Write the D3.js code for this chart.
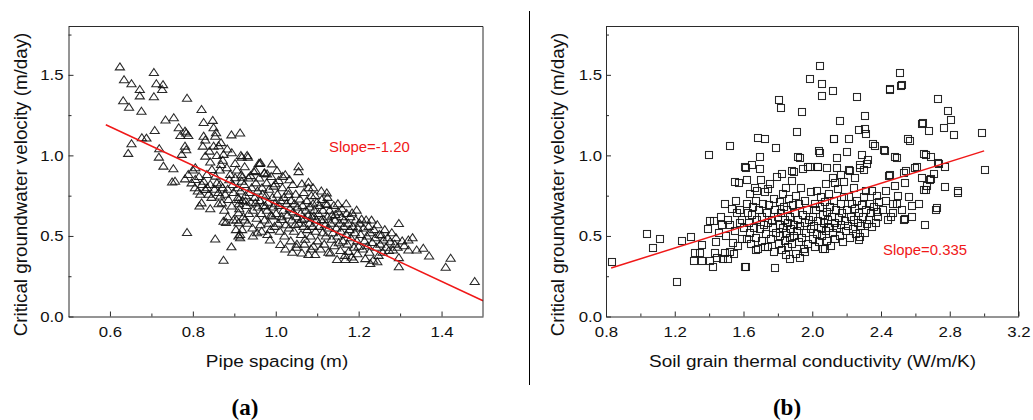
<!DOCTYPE html>
<html><head><meta charset="utf-8">
<script src="https://cdn.jsdelivr.net/npm/d3@7"></script>
<style>body{margin:0;background:#fff;}svg{display:block;}</style>
</head><body><svg id="c" width="1033" height="420"></svg>
<script>
// ---------------- data ----------------
const yDomain = [0, 1.8];
const yTicks = [0, 0.5, 1.0, 1.5];
const yMinor = [0.25, 0.75, 1.25, 1.75];

const xDomainA = [0.5, 1.5];
const xTicksA = [0.6, 0.8, 1.0, 1.2, 1.4];
const xMinorA = [0.7, 0.9, 1.1, 1.3];
const xTitleA = "Pipe spacing (m)";
const panelLabelA = "(a)";
const fitA = [-1.20, 1.898, 0.59, 1.5]; // slope, intercept, x from, x to
const slopeLabelA = "Slope=-1.20";

const xDomainB = [0.8, 3.2];
const xTicksB = [0.8, 1.2, 1.6, 2.0, 2.4, 2.8, 3.2];
const xMinorB = [1.0, 1.4, 1.8, 2.2, 2.6, 3.0];
const xTitleB = "Soil grain thermal conductivity (W/m/K)";
const panelLabelB = "(b)";
const fitB = [0.335, 0.023, 0.83, 3.0];
const slopeLabelB = "Slope=0.335";

const yTitle = "Critical groundwater velocity (m/day)";

// pipe spacing (m) vs critical velocity (m/day)
const pointsA = [
[0.624,1.55],[0.634,1.47],[0.652,1.445],[0.706,1.515],[0.712,1.445],[0.728,1.44],[0.726,1.41],[0.672,1.41],[0.672,1.37],[0.706,1.365],
[0.632,1.34],[0.646,1.30],[0.676,1.275],[0.786,1.355],[0.821,1.285],[0.734,1.22],[0.754,1.234],[0.826,1.205],[0.848,1.218],[0.708,1.155],
[0.677,1.11],[0.688,1.108],[0.652,1.073],[0.644,1.013],[0.718,0.99],[0.719,1.042],[0.729,0.934],[0.753,0.918],[0.757,0.84],[0.750,0.835],
[0.766,1.172],[0.781,1.151],[0.784,1.14],[0.770,1.124],[0.789,1.124],[0.781,1.058],[0.784,1.036],[0.773,1.007],[0.826,1.12],[0.830,1.096],
[0.824,1.058],[0.840,1.027],[0.850,1.172],[0.856,1.141],[0.854,1.12],[0.850,1.058],[0.893,1.128],[0.914,1.140],[0.916,1.0],[0.894,1.017],
[0.874,1.007],[0.830,0.996],[0.806,0.924],[0.789,0.882],[0.781,0.855],[0.797,0.83],[0.806,0.851],[0.822,0.82],[0.834,0.882],[0.846,0.913],
[0.854,0.872],[0.868,0.944],[0.882,0.924],[0.890,0.882],[0.902,0.862],[0.918,0.84],[0.866,0.82],[0.842,0.82],[0.830,0.789],[0.866,0.748],
[0.870,0.706],[0.886,0.727],[0.894,0.686],[0.910,0.644],[0.910,0.582],[0.914,0.489],[0.842,0.669],[0.821,0.706],[0.816,0.686],[0.874,0.592],
[0.880,0.585],[0.786,0.522],[0.854,0.482],[0.893,0.433],[0.874,0.35],
[0.805,0.80],[0.812,0.78],[0.818,0.76],[0.826,0.84],[0.835,0.80],[0.838,0.76],[0.845,0.74],[0.852,0.79],[0.858,0.83],[0.862,0.77],
[0.872,0.80],[0.878,0.76],[0.884,0.79],[0.888,0.85],[0.896,0.82],[0.898,0.77],[0.862,0.70],[0.876,0.66],[0.884,0.62],[0.898,0.60],
[0.904,0.54],[0.865,0.91],[0.872,0.97],[0.858,1.0],[0.883,1.04],[0.842,0.96],[0.815,0.87],[0.800,0.91],[0.862,1.06],[0.868,1.08],
[0.902,0.95],[0.906,0.91],[0.908,0.80],[0.909,0.74],[0.911,0.70],[0.912,0.67],[0.915,0.78],[0.917,0.88],[0.919,0.54],[0.920,0.72],
[0.922,0.62],[0.924,0.82],[0.925,0.93],[0.927,0.75],[0.929,0.69],[0.931,1.00],[0.932,0.58],[0.934,0.86],[0.935,0.64],[0.937,0.77],
[0.939,0.875],[0.940,0.71],[0.942,0.80],[0.944,0.55],[0.945,0.66],[0.947,0.90],[0.949,0.74],[0.951,0.706],[0.952,0.83],[0.954,0.61],
[0.956,0.78],[0.957,0.68],[0.959,0.95],[0.960,0.86],[0.962,0.72],[0.963,0.57],[0.965,0.64],[0.967,0.80],[0.968,0.76],[0.970,0.69],
[0.972,0.89],[0.973,0.60],[0.975,0.686],[0.976,0.75],[0.978,0.83],[0.979,0.66],[0.981,0.71],[0.983,0.58],[0.984,0.79],[0.986,0.475],
[0.987,0.54],[0.988,0.63],[0.989,0.87],[0.991,0.624],[0.991,0.948],[0.992,0.74],[0.994,0.68],[0.995,0.81],[0.997,0.56],[0.998,0.70],
[0.999,0.824],[0.918,0.99],[0.933,0.99],[0.962,0.95],[0.973,0.892],[0.914,0.51],[0.91,0.50],[0.927,0.717],[0.911,0.727],[0.951,0.906],
[0.919,0.865],[0.979,0.886],[0.963,0.955],[0.945,0.50],[0.955,0.52],[0.966,0.53],[0.905,0.60],[0.925,0.60],[0.98,0.51],
[1.001,0.64],[1.003,0.906],[1.004,0.76],[1.006,0.58],[1.007,0.845],[1.008,0.69],[1.010,0.53],[1.011,0.447],[1.012,0.72],[1.014,0.62],
[1.015,0.603],[1.016,0.80],[1.018,0.66],[1.020,0.74],[1.021,0.50],[1.023,0.88],[1.023,0.42],[1.024,0.57],[1.026,0.70],[1.028,0.63],
[1.030,0.78],[1.031,0.758],[1.032,0.55],[1.034,0.67],[1.036,0.47],[1.037,0.72],[1.039,0.60],[1.041,0.82],[1.042,0.65],[1.044,0.53],
[1.045,0.70],[1.047,0.572],[1.048,0.76],[1.050,0.62],[1.051,0.45],[1.053,0.68],[1.055,0.93],[1.055,0.90],[1.056,0.58],[1.058,0.73],
[1.060,0.64],[1.061,0.51],[1.063,0.603],[1.063,0.824],[1.063,0.395],[1.065,0.69],[1.067,0.56],[1.068,0.77],[1.070,0.61],[1.071,0.48],
[1.073,0.66],[1.075,0.72],[1.076,0.54],[1.078,0.63],[1.079,0.834],[1.079,0.80],[1.079,0.385],[1.081,0.58],[1.082,0.68],[1.084,0.50],
[1.086,0.75],[1.087,0.62],[1.089,0.56],[1.090,0.70],[1.091,0.437],[1.092,0.624],[1.093,0.66],[1.095,0.752],[1.095,0.385],[1.096,0.53],
[1.098,0.60],[1.099,0.71],[1.040,0.40],[1.050,0.43],[1.033,0.85],[1.017,0.87],[1.069,0.45],[1.085,0.42],
[1.101,0.47],[1.103,0.64],[1.105,0.56],[1.106,0.69],[1.108,0.42],[1.110,0.60],[1.111,0.727],[1.113,0.52],[1.114,0.66],[1.116,0.603],
[1.117,0.45],[1.119,0.57],[1.120,0.70],[1.121,0.50],[1.123,0.768],[1.124,0.696],[1.125,0.62],[1.127,0.40],[1.128,0.55],[1.130,0.66],
[1.132,0.395],[1.133,0.58],[1.135,0.48],[1.136,0.63],[1.138,0.52],[1.140,0.69],[1.141,0.44],[1.143,0.60],[1.144,0.634],[1.146,0.55],
[1.148,0.354],[1.149,0.50],[1.151,0.65],[1.152,0.458],[1.154,0.58],[1.156,0.41],[1.157,0.53],[1.159,0.62],[1.160,0.669],[1.162,0.47],
[1.164,0.56],[1.165,0.60],[1.167,0.38],[1.168,0.354],[1.170,0.51],[1.171,0.64],[1.173,0.45],[1.175,0.58],[1.176,0.405],[1.178,0.54],
[1.180,0.62],[1.181,0.49],[1.183,0.37],[1.184,0.644],[1.186,0.56],[1.188,0.354],[1.189,0.43],[1.191,0.52],[1.193,0.60],[1.195,0.661],
[1.196,0.47],[1.198,0.55],[1.200,0.437],[1.197,0.39],[1.110,0.78],[1.125,0.74],[1.090,0.80],[1.150,0.70],[1.170,0.70],
[1.202,0.58],[1.205,0.51],[1.207,0.605],[1.210,0.42],[1.212,0.55],[1.214,0.47],[1.216,0.36],[1.218,0.60],[1.220,0.50],[1.222,0.44],
[1.224,0.56],[1.226,0.40],[1.228,0.52],[1.231,0.599],[1.233,0.46],[1.235,0.35],[1.237,0.54],[1.240,0.49],[1.243,0.43],[1.245,0.57],
[1.248,0.38],[1.250,0.51],[1.252,0.45],[1.255,0.506],[1.258,0.40],[1.260,0.475],[1.263,0.54],[1.266,0.43],[1.270,0.49],[1.273,0.41],
[1.276,0.465],[1.280,0.52],[1.283,0.413],[1.287,0.45],[1.290,0.49],[1.294,0.43],[1.297,0.578],[1.297,0.366],[1.297,0.31],[1.228,0.33],
[1.245,0.34],[1.305,0.47],[1.31,0.44],[1.32,0.475],[1.32,0.413],[1.33,0.49],[1.34,0.413],[1.356,0.424],[1.37,0.376],[1.41,0.306],
[1.422,0.362],[1.48,0.218]
];

// soil grain thermal conductivity (W/m/K) vs critical velocity (m/day)
const pointsB = [
[0.833,0.341],[1.037,0.51],[1.076,0.424],[1.115,0.482],[1.212,0.213],[1.245,0.471],[1.295,0.496],[1.357,0.444],[1.402,1.001],[1.523,1.061],
[1.406,0.592],[1.43,0.592],[1.396,0.545],[1.474,0.571],[1.522,0.571],[1.58,0.582],[1.629,0.644],[1.59,0.478],[1.62,0.478],[1.541,0.458],
[1.313,0.344],[1.357,0.344],[1.406,0.344],[1.448,0.364],[1.48,0.36],[1.512,0.354],[1.435,0.396],[1.493,0.396],[1.52,0.40],[1.425,0.309],
[1.614,0.306],[1.347,0.396],[1.318,0.396],[1.493,0.696],[1.557,0.716],[1.532,0.665],[1.56,0.64],[1.551,0.834],[1.576,0.83],[1.614,0.923],
[1.46,0.52],[1.50,0.50],[1.55,0.53],[1.47,0.62],[1.51,0.60],[1.58,0.66],[1.60,0.55],[1.57,0.44],[1.545,0.385],[1.59,0.60],[1.44,0.46],
[1.61,0.928],[1.649,0.938],[1.697,0.917],[1.687,1.11],[1.726,1.103],[1.790,1.043],[1.694,0.992],[1.61,0.306],[1.785,0.298],[1.672,0.413],
[1.726,0.434],[1.62,0.70],[1.63,0.58],[1.635,0.52],[1.64,0.76],[1.645,0.45],[1.65,0.63],[1.655,0.68],[1.66,0.55],[1.665,0.80],
[1.67,0.49],[1.675,0.72],[1.68,0.60],[1.685,0.42],[1.69,0.66],[1.695,0.54],[1.70,0.85],[1.705,0.62],[1.71,0.47],[1.715,0.70],
[1.72,0.57],[1.725,0.77],[1.73,0.51],[1.735,0.64],[1.74,0.43],[1.745,0.58],[1.75,0.69],[1.755,0.82],[1.76,0.48],[1.765,0.60],
[1.77,0.55],[1.775,0.73],[1.78,0.40],[1.785,0.66],[1.79,0.52],[1.795,0.867],[1.80,0.62],[1.62,0.85],[1.68,0.78],[1.74,0.79],
[1.804,1.342],[1.817,1.296],[1.823,0.882],[1.881,0.903],[1.91,1.147],[1.915,0.988],[1.943,1.271],[1.949,0.913],[1.978,0.928],[1.988,1.472],
[1.928,0.361],[1.891,0.898],[1.926,0.984],[1.805,0.45],[1.81,0.57],[1.812,0.71],[1.815,0.50],[1.82,0.64],[1.825,0.41],[1.828,0.76],
[1.83,0.55],[1.835,0.68],[1.84,0.47],[1.843,0.60],[1.847,0.80],[1.85,0.52],[1.855,0.66],[1.858,0.43],[1.86,0.58],[1.865,0.73],
[1.87,0.49],[1.873,0.62],[1.877,0.54],[1.88,0.84],[1.885,0.45],[1.888,0.69],[1.892,0.57],[1.895,0.50],[1.90,0.64],[1.905,0.39],
[1.908,0.75],[1.912,0.53],[1.918,0.60],[1.92,0.46],[1.925,0.70],[1.93,0.56],[1.935,0.80],[1.94,0.49],[1.945,0.63],[1.95,0.42],
[1.955,0.58],[1.96,0.72],[1.965,0.52],[1.97,0.66],[1.975,0.45],[1.98,0.60],[1.985,0.929],[1.99,0.54],[1.995,0.77],[1.85,0.38],
[1.87,0.36],[1.96,0.40],
[2.033,0.925],[2.041,1.025],[2.043,1.016],[2.046,1.555],[2.056,1.445],[2.059,1.369],[2.031,0.928],[2.086,0.924],[2.082,0.82],[2.123,1.40],
[2.128,1.104],[2.125,1.10],[2.144,0.985],[2.144,0.924],[2.16,1.213],[2.134,0.83],[2.183,0.836],[2.076,0.418],[2.003,0.48],[2.006,0.62],
[2.01,0.56],[2.015,0.70],[2.018,0.43],[2.022,0.66],[2.026,0.51],[2.03,0.78],[2.035,0.59],[2.04,0.46],[2.044,0.68],[2.048,0.55],
[2.052,0.74],[2.056,0.50],[2.06,0.63],[2.065,0.42],[2.07,0.58],[2.074,0.71],[2.078,0.53],[2.083,0.65],[2.088,0.47],[2.092,0.60],
[2.097,0.76],[2.10,0.55],[2.105,0.68],[2.11,0.44],[2.115,0.62],[2.12,0.52],[2.125,0.72],[2.13,0.58],[2.135,0.48],[2.14,0.66],
[2.145,0.55],[2.15,0.79],[2.155,0.61],[2.16,0.50],[2.165,0.70],[2.17,0.57],[2.175,0.64],[2.18,0.46],[2.185,0.74],[2.19,0.59],
[2.195,0.53],[2.12,0.86],[2.17,0.88],
[2.202,1.02],[2.212,1.10],[2.212,0.907],[2.218,0.904],[2.251,0.862],[2.26,1.364],[2.27,1.16],[2.276,0.919],[2.28,0.938],[2.29,1.0],
[2.3,0.909],[2.308,1.244],[2.308,1.166],[2.314,1.135],[2.32,0.944],[2.325,0.973],[2.27,0.475],[2.348,0.558],[2.355,1.069],[2.367,1.061],
[2.377,0.75],[2.348,0.781],[2.3,0.74],[2.32,0.575],[2.28,0.493],[2.377,0.648],[2.205,0.66],[2.21,0.56],[2.215,0.74],[2.22,0.49],
[2.225,0.62],[2.23,0.70],[2.235,0.54],[2.24,0.80],[2.245,0.60],[2.25,0.67],[2.255,0.51],[2.26,0.72],[2.265,0.58],[2.27,0.64],
[2.285,0.56],[2.29,0.69],[2.295,0.62],[2.305,0.52],[2.31,0.66],[2.315,0.78],[2.33,0.60],[2.335,0.70],[2.34,0.64],[2.36,0.68],
[2.37,0.58],[2.385,0.62],[2.39,0.71],
[2.417,1.032],[2.421,1.026],[2.45,1.41],[2.45,0.876],[2.455,1.403],[2.481,0.991],[2.483,0.81],[2.491,0.696],[2.456,0.617],[2.445,0.872],
[2.493,0.985],[2.508,1.513],[2.518,1.43],[2.52,1.439],[2.532,0.892],[2.532,0.599],[2.538,0.607],[2.54,0.831],[2.544,0.903],[2.557,1.10],
[2.567,1.09],[2.583,0.686],[2.41,0.66],[2.43,0.72],[2.44,0.60],[2.47,0.64],[2.50,0.75],[2.52,0.66],[2.56,0.74],[2.58,0.62],
[2.43,0.78],[2.47,0.70],
[2.60,0.919],[2.608,0.928],[2.639,1.193],[2.642,1.198],[2.649,0.783],[2.653,1.006],[2.655,0.568],[2.659,1.002],[2.659,0.784],[2.67,0.808],
[2.677,1.151],[2.684,0.846],[2.69,0.855],[2.692,0.991],[2.708,0.882],[2.721,0.661],[2.725,0.675],[2.73,1.352],[2.73,0.95],[2.737,0.949],
[2.765,1.172],[2.772,0.803],[2.774,0.93],[2.789,1.273],[2.809,1.217],[2.824,1.125],[2.846,0.777],[2.849,0.764],[2.99,1.14],[3.005,0.907],
[2.62,0.70],[2.64,0.86]
];

// ---------------- drawing ----------------
const svg = d3.select("#c");
svg.append("rect").attr("width", 1033).attr("height", 420).attr("fill", "#fff");
const FONT = "'Liberation Sans', Arial, Helvetica, sans-serif";
const AX = "#2b2b2b";
const yRange = [316.5, 26.5];

function panel(o) {
  const x = d3.scaleLinear().domain(o.xDomain).range(o.xRange);
  const y = d3.scaleLinear().domain(yDomain).range(yRange);
  const g = svg.append("g");
  const [x0, x1] = o.xRange;

  // points
  const pg = g.append("g").attr("fill", "none").attr("stroke", "#111").attr("stroke-width", 1.05).attr("stroke-opacity", 0.9);
  if (o.marker === "tri") {
    pg.selectAll("path").data(o.points).join("path")
      .attr("d", d => { const cx = x(d[0]), cy = y(d[1]); return `M${cx},${cy-3.9}L${cx+4.6},${cy+3.1}L${cx-4.6},${cy+3.1}Z`; });
  } else {
    pg.selectAll("rect").data(o.points).join("rect")
      .attr("x", d => Math.round(x(d[0])) - 3.5).attr("y", d => Math.round(y(d[1])) - 3.5)
      .attr("width", 7).attr("height", 7);
  }

  // fit line
  const f = o.fit;
  g.append("line")
    .attr("x1", x(f[2])).attr("y1", y(f[1] + f[0] * f[2]))
    .attr("x2", x(f[3])).attr("y2", y(f[1] + f[0] * f[3]))
    .attr("stroke", "#f01818").attr("stroke-width", 1.5);

  // frame (top & right)
  g.append("path").attr("d", `M${x0},${yRange[1]}H${x1}V${yRange[0]}`)
    .attr("fill", "none").attr("stroke", AX).attr("stroke-width", 1);

  // bottom axis
  const xa = g.append("g").attr("transform", `translate(0,${yRange[0]})`)
    .call(d3.axisBottom(x).tickValues(o.xTicks).tickFormat(d3.format(".1f"))
      .tickSizeInner(-5).tickSizeOuter(0).tickPadding(9.5));
  g.append("g").attr("transform", `translate(0,${yRange[0]})`)
    .call(d3.axisBottom(x).tickValues(o.xMinor).tickFormat("").tickSizeInner(-3).tickSizeOuter(0))
    .select(".domain").remove();
  // left axis
  const ya = g.append("g").attr("transform", `translate(${x0},0)`)
    .call(d3.axisLeft(y).tickValues(yTicks).tickFormat(d3.format(".1f"))
      .tickSizeInner(-5).tickSizeOuter(0).tickPadding(o.yPad));
  g.append("g").attr("transform", `translate(${x0},0)`)
    .call(d3.axisLeft(y).tickValues(yMinor).tickFormat("").tickSizeInner(-3).tickSizeOuter(0))
    .select(".domain").remove();

  g.selectAll(".domain, .tick line").attr("stroke", AX);
  g.selectAll(".tick text").attr("font-family", FONT).attr("font-size", 15).attr("fill", "#111");
  xa.selectAll(".tick text").attr("transform", "scale(1.12,1)");
  ya.selectAll(".tick text").each(function () {
    const t = d3.select(this); const xx = +t.attr("x");
    t.attr("x", 0).attr("transform", `translate(${xx},0) scale(1.12,1)`);
  });

  // axis titles
  g.append("text").attr("transform", `translate(${o.xTitleX},366.5) scale(1.165,1)`)
    .attr("text-anchor", "middle").attr("font-family", FONT).attr("font-size", 16.3).attr("fill", "#111")
    .text(o.xTitle);
  g.append("text").attr("transform", `translate(${o.yTitleX},184.5) rotate(-90)`)
    .attr("text-anchor", "middle").attr("font-family", FONT).attr("font-size", 18.8).attr("fill", "#111")
    .text(yTitle);
  // slope label
  g.append("text").attr("x", o.slopeX).attr("y", o.slopeY)
    .attr("font-family", FONT).attr("font-size", 14.9).attr("fill", "#f01818").text(o.slopeLabel);
  // panel label
  g.append("text").attr("x", o.labelX).attr("y", 415)
    .attr("text-anchor", "middle").attr("font-family", "'Liberation Serif','Times New Roman',serif")
    .attr("font-weight", "bold").attr("font-size", 23).attr("fill", "#000").text(o.label);
}

panel({ xDomain: xDomainA, xRange: [68.5, 483], xTicks: xTicksA, xMinor: xMinorA, points: pointsA, marker: "tri",
  fit: fitA, xTitle: xTitleA, xTitleX: 277, yTitleX: 26.5, yPad: 5, slopeLabel: slopeLabelA, slopeX: 329, slopeY: 151.5,
  label: panelLabelA, labelX: 245 });
panel({ xDomain: xDomainB, xRange: [606, 1018.5], xTicks: xTicksB, xMinor: xMinorB, points: pointsB, marker: "sq",
  fit: fitB, xTitle: xTitleB, xTitleX: 812.5, yTitleX: 564, yPad: 4, slopeLabel: slopeLabelB, slopeX: 883, slopeY: 254.5,
  label: panelLabelB, labelX: 787 });

// divider between panels
svg.append("line").attr("x1", 529.5).attr("x2", 529.5).attr("y1", 11).attr("y2", 385)
  .attr("stroke", "#000").attr("stroke-width", 1);
</script>
</body></html>
